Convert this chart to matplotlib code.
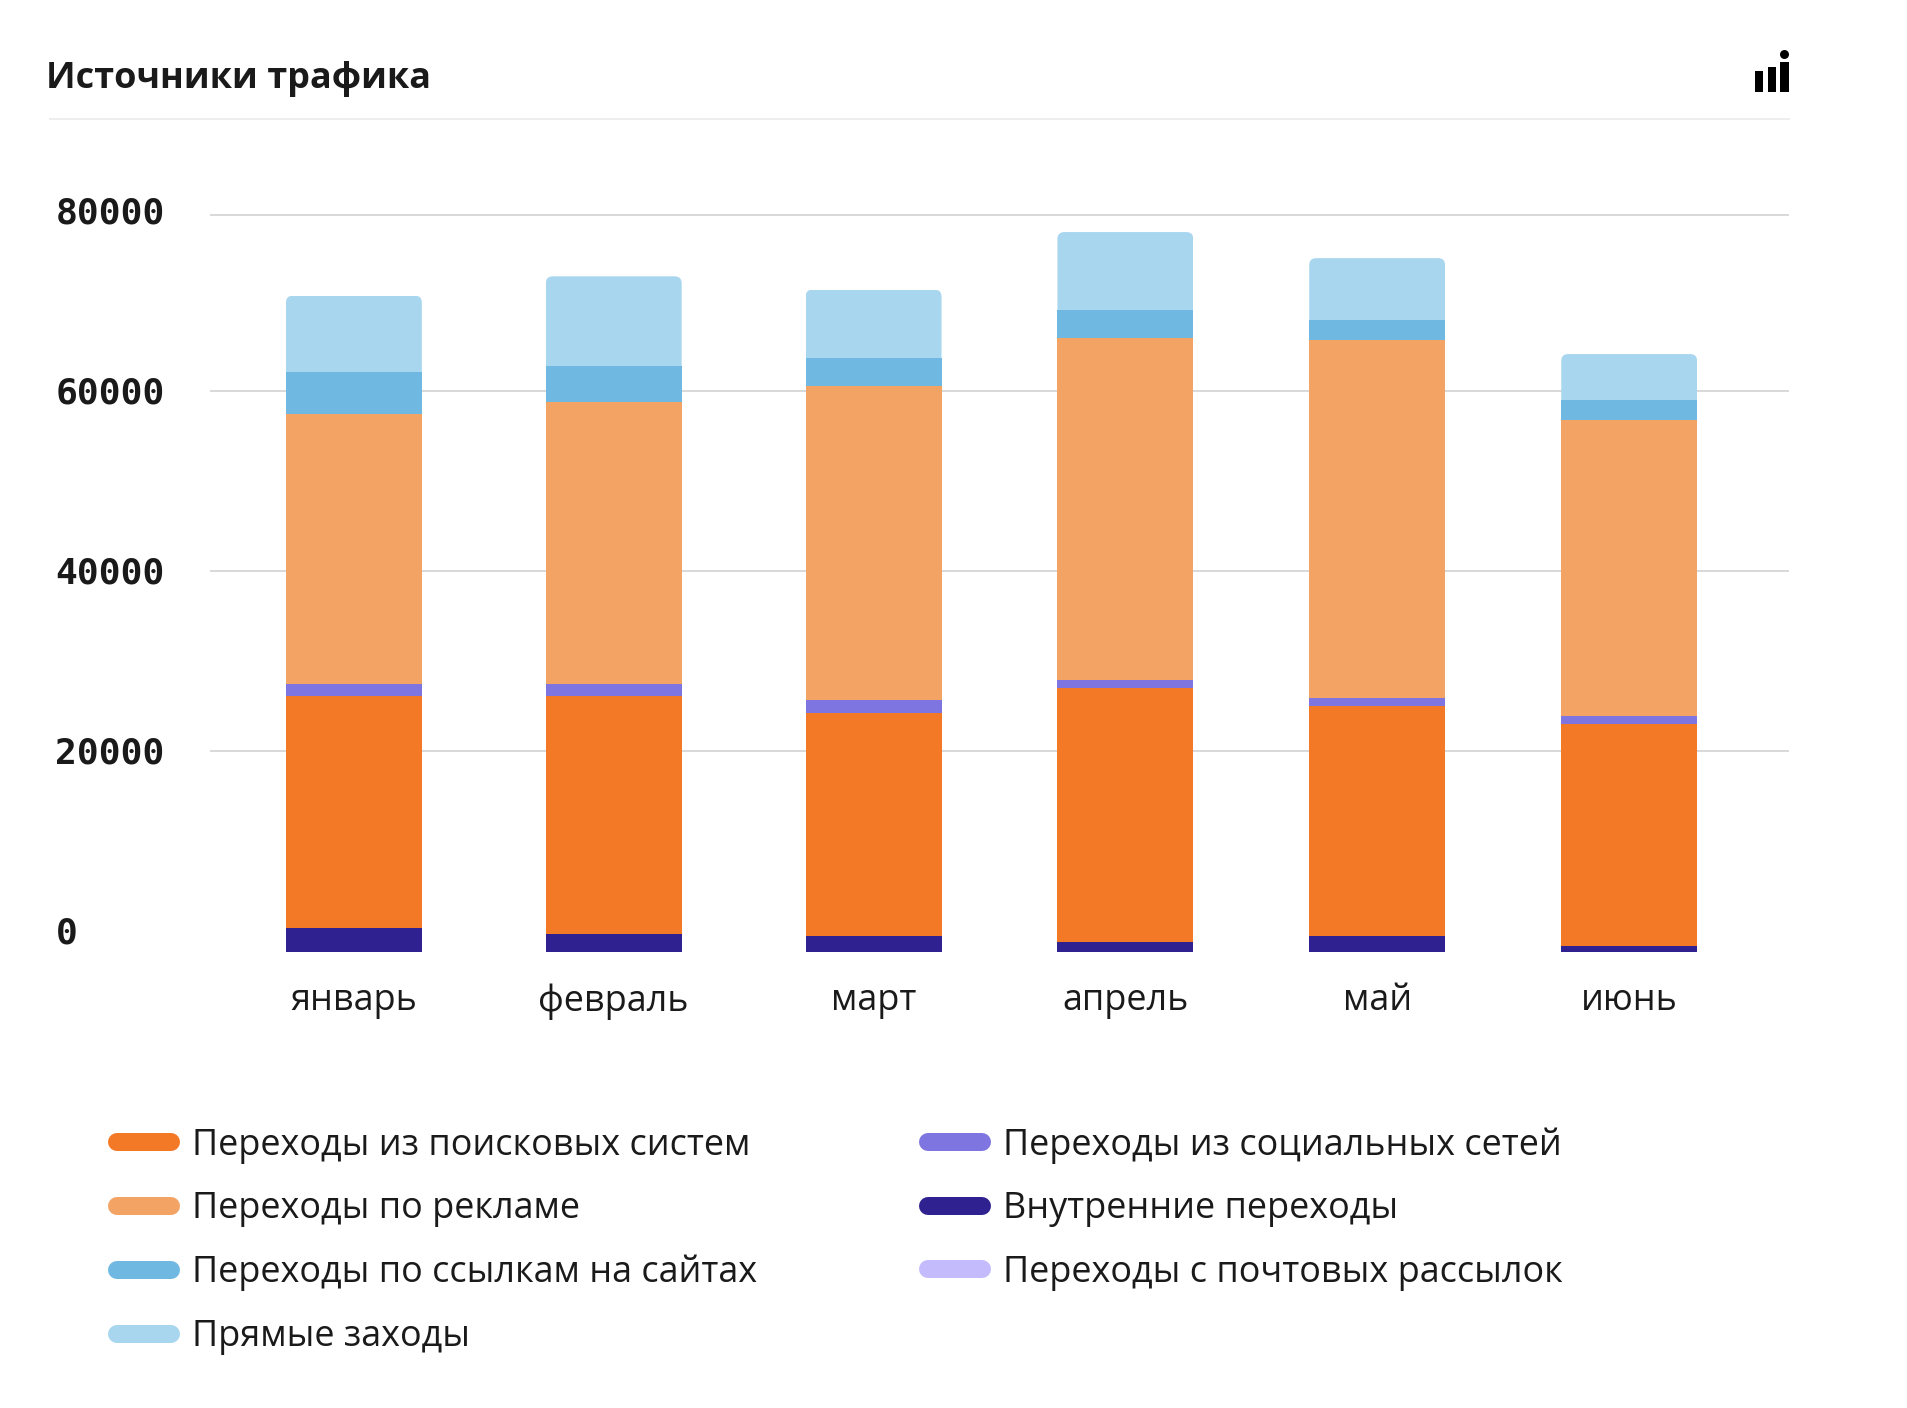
import matplotlib
matplotlib.use("Agg")
import matplotlib.pyplot as plt
from matplotlib.lines import Line2D
from matplotlib.patches import FancyBboxPatch, Rectangle, Circle
from matplotlib.transforms import Affine2D, IdentityTransform, ScaledTranslation

W, H = 1908, 1408
TEXT = "#1a1a1a"

months = ["январь", "февраль", "март", "апрель", "май", "июнь"]
month_pos = [0, 1, 2, 2.969, 3.938, 4.908]

internal = [2630, 2050, 1830, 1110, 1780, 670]
search = [25800, 26400, 24790, 28260, 25560, 24700]
social = [1400, 1330, 1360, 860, 890, 880]
ads = [30030, 31400, 34900, 38060, 39800, 32900]
links = [4670, 3970, 3200, 3060, 2220, 2200]
direct = [8440, 9970, 7560, 8690, 6890, 5130]
email = [0, 0, 0, 0, 0, 0]

y_ticks = [0, 20000, 40000, 60000, 80000]
y_labels = ["0", "20000", "40000", "60000", "80000"]
grid_levels = [20000, 40000, 60000, 79600]
stack_floor = -2333

title = "Источники трафика"
names = {
    "search": "Переходы из поисковых систем",
    "ads": "Переходы по рекламе",
    "links": "Переходы по ссылкам на сайтах",
    "direct": "Прямые заходы",
    "social": "Переходы из социальных сетей",
    "internal": "Внутренние переходы",
    "email": "Переходы с почтовых рассылок",
}
colors = {
    "search": "#F37926",
    "ads": "#F3A364",
    "links": "#6FB8E2",
    "direct": "#A9D6EF",
    "social": "#7F75E0",
    "internal": "#2F2290",
    "email": "#C4BBFC",
}

fig = plt.figure(figsize=(W / 100, H / 100), dpi=100, facecolor="white")
ax = fig.add_axes([210 / W, 1 - 952 / H, 1579 / W, 852 / H], facecolor="none")
ax.set_xlim(-0.5538, 5.523)
ax.set_ylim(stack_floor, 92389)
for s in ax.spines.values():
    s.set_visible(False)

ax.hlines(grid_levels, -0.5538, 5.523, colors="#D9D9D9", linewidth=1.44, zorder=1)

stack = [("internal", internal), ("search", search), ("social", social),
         ("ads", ads), ("links", links), ("direct", direct)]
bottom = [stack_floor] * 6
top_bars = None
for key, vals in stack:
    top_bars = ax.bar(month_pos, vals, width=0.523, bottom=bottom, color=colors[key],
                      linewidth=0, zorder=2)
    bottom = [b + v for b, v in zip(bottom, vals)]

# rounded top corners on the uppermost segment
fig.canvas.draw()
r = 7
for b in top_bars:
    e = b.get_window_extent()
    clip = FancyBboxPatch((e.x0 + r, e.y0 - 20), e.width - 2 * r, e.height + 20 - r,
                          boxstyle=f"round,pad={r},rounding_size={r}",
                          transform=IdentityTransform())
    b.set_clip_path(clip)

ax.set_xticks(month_pos, months, fontfamily="Open Sans", fontsize=25.9, color=TEXT)
ax.tick_params(axis="x", length=0, pad=22.5)
ax.set_yticks(y_ticks, y_labels, fontfamily="DejaVu Sans Mono", fontweight="bold",
              fontsize=26.2, color=TEXT)
ax.tick_params(axis="y", length=0, pad=154.5 * 0.72)
nudge = ScaledTranslation(0, -2.4 / 100, fig.dpi_scale_trans)
for lab in ax.get_yticklabels():
    lab.set_ha("left")
    lab.set_va("center")
    lab.set_transform(lab.get_transform() + nudge)

# header
px = Affine2D().scale(1 / W, -1 / H).translate(0, 1) + fig.transFigure
fig.text(46 / W, 1 - 79 / H, title, fontfamily="Open Sans", fontweight="bold",
         fontsize=25.95, color=TEXT, va="center", ha="left")
fig.add_artist(Line2D([50, 1789], [119, 119], transform=px, color="#EEEEEE", linewidth=1.44))
for x0, x1, y0 in [(1755, 1763, 70.7), (1768, 1776, 66.5), (1780.5, 1789, 62)]:
    fig.add_artist(Rectangle((x0, y0), x1 - x0, 91.5 - y0, transform=px, color="black", linewidth=0))
fig.add_artist(Circle((1784.5, 54.5), 4.5, transform=px, color="black", linewidth=0))

# legend
order = ["search", "ads", "links", "direct", "social", "internal", "email"]
handles = [Line2D([], [], color=colors[k], linewidth=12.96, solid_capstyle="round") for k in order]
fig.legend(handles, [names[k] for k in order], ncol=2, loc="upper left",
           bbox_to_anchor=(117 / W, 1 - 1127 / H), bbox_transform=fig.transFigure,
           frameon=False, borderpad=0, borderaxespad=0, handlelength=1.505,
           handletextpad=0.577,
           columnspacing=4.76, labelspacing=0.77,
           prop={"family": "Open Sans", "size": 25.9}, labelcolor=TEXT)

fig.savefig("out.png", dpi=100, facecolor="white")
